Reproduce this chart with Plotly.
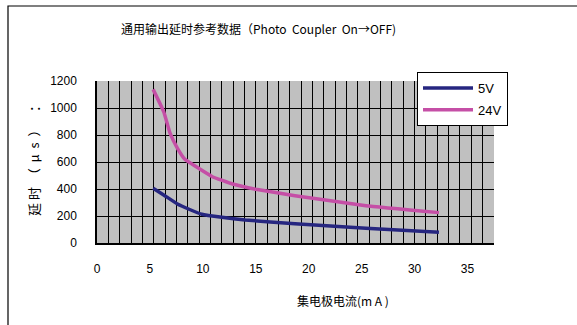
import plotly.graph_objects as go

# Delay vs collector current, read per supply voltage
current_24v = [5.3, 6.3, 6.9, 7.6, 8.3, 9.6, 10.9, 12.8, 15.0, 18.7, 25.4, 32.3]
delay_24v = [1138, 973, 813, 701, 620, 553, 491, 437, 398, 350, 276, 225]
current_5v = [5.3, 6.3, 7.6, 8.7, 9.9, 11.8, 14.0, 18.7, 25.4, 32.3]
delay_5v = [405, 356, 289, 250, 213, 190, 170, 143, 109, 79]

series_names = ["5V", "24V"]
x_ticks = [0, 5, 10, 15, 20, 25, 30, 35]
y_ticks = [0, 200, 400, 600, 800, 1000, 1200]

CJK = "Noto Sans CJK SC"
NUM = "Liberation Sans"

W, H = 577, 325
L, R, T, B = 97, 83, 81, 82

fig = go.Figure()
fig.add_trace(go.Scatter(
    x=current_5v, y=delay_5v, name=series_names[0], mode="lines",
    line=dict(color="#262680", width=3.5, shape="spline", smoothing=0.3),
    legendgroup="a"))
fig.add_trace(go.Scatter(
    x=current_24v, y=delay_24v, name=series_names[1], mode="lines",
    line=dict(color="#C54FA6", width=3.5, shape="spline", smoothing=0.3),
    legendgroup="b"))

pw = W - L - R
ph = H - T - B
def px_x(p):
    return (p - L) / pw
def px_y(p):
    return (H - B - p) / ph

fig.update_layout(
    width=W, height=H,
    margin=dict(l=L, r=R, t=T, b=B),
    paper_bgcolor="white",
    plot_bgcolor="#C0C0C0",
    font=dict(family=CJK, size=12, color="black"),
    showlegend=True,
    legend=dict(
        x=px_x(417), y=px_y(72), xanchor="left", yanchor="top",
        bgcolor="white", bordercolor="black", borderwidth=1,
        font=dict(family=NUM, size=13, color="black"),
        tracegroupgap=2, traceorder="grouped",
        itemwidth=50,
    ),
    xaxis=dict(
        range=[0, 37.5], tickmode="array", tickvals=x_ticks,
        ticktext=[str(v) for v in x_ticks],
        showgrid=False, zeroline=False,
        showline=True, linecolor="black", linewidth=2,
        ticks="outside", ticklen=0, ticklabelstandoff=14,
        tickfont=dict(family=NUM, size=12, color="black"),
        minor=dict(tick0=0, dtick=37.5 / 35, showgrid=True,
                   gridcolor="black", gridwidth=1),
    ),
    yaxis=dict(
        range=[0, 1200], tickmode="array", tickvals=y_ticks,
        showgrid=True, gridcolor="black", gridwidth=1, zeroline=False,
        showline=True, linecolor="black", linewidth=1.5,
        ticks="outside", ticklen=0, ticklabelstandoff=16,
        tickfont=dict(family=NUM, size=12, color="black"),
    ),
    annotations=[
        dict(text="通用输出延时参考数据（Photo  Coupler  On→OFF)",
             xref="paper", yref="paper", x=px_x(258), y=px_y(29),
             xanchor="center", yanchor="middle", showarrow=False,
             font=dict(family=CJK, size=12)),
        dict(text="集电极电流(m A )",
             xref="paper", yref="paper", x=px_x(343), y=px_y(300),
             xanchor="center", yanchor="middle", showarrow=False,
             font=dict(family=CJK, size=12)),
        dict(text="延 时  （  μ  s  ）    ：",
             xref="paper", yref="paper", x=px_x(33), y=px_y(158),
             xanchor="center", yanchor="middle", showarrow=False,
             textangle=-90, font=dict(family=CJK, size=13)),
    ],
    shapes=[
        dict(type="rect", xref="paper", yref="paper",
             x0=px_x(8), x1=px_x(600), y0=px_y(340), y1=px_y(6),
             line=dict(color="black", width=1.2), fillcolor="rgba(0,0,0,0)",
             layer="below"),
    ],
)

fig.write_html("out.html")
